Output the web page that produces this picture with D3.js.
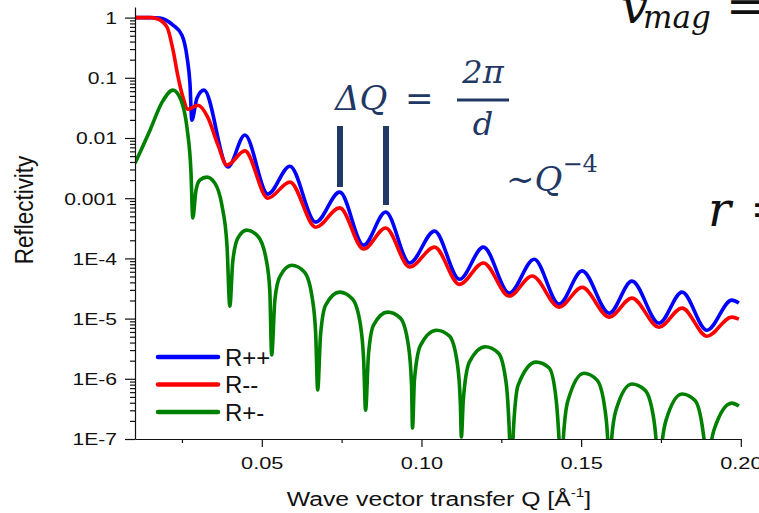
<!DOCTYPE html>
<html>
<head>
<meta charset="utf-8">
<script src="https://cdn.jsdelivr.net/npm/d3@7"></script>
<style>
  body { margin: 0; background: #fff; }
  svg { display: block; }
  text { font-family: "Liberation Sans", Arial, sans-serif; fill: #111; }
  .math { font-family: "DejaVu Serif", serif; font-style: italic; }
  .navy { fill: #1f3864; }
</style>
</head>
<body>
<svg id="chart" width="759" height="513"></svg>
<script>
// series (Q in 1/Angstrom, reflectivity)
const seriesNames = ["R++", "R--", "R+-"];
const seriesColors = ["#0000ff", "#ff0000", "#008000"];

const qPlusPlus = [0.0103, 0.0150, 0.0181, 0.0222, 0.0250, 0.0266, 0.0275, 0.0281, 0.0297, 0.0319,
  0.0394, 0.0447, 0.0519, 0.0588, 0.0669, 0.0744, 0.0819, 0.0888, 0.0963, 0.1041,
  0.1119, 0.1194, 0.1275, 0.1353, 0.1431, 0.1503, 0.1588, 0.1659, 0.1744, 0.1816,
  0.1894, 0.1972, 0.1994];
const rPlusPlus = [1.0, 1.0, 0.98, 0.75, 0.51, 0.22, 0.082, 0.0198, 0.046, 0.0625,
  0.0033, 0.0112, 0.00117, 0.0034, 4.0e-4, 1.26e-3, 1.66e-4, 5.9e-4, 8.4e-5, 2.84e-4,
  4.5e-5, 1.54e-4, 2.65e-5, 9.7e-5, 1.74e-5, 6.2e-5, 1.23e-5, 4.2e-5, 8.4e-6, 2.75e-5,
  6.4e-6, 2.03e-5, 1.81e-5];

const qMinusMinus = [0.0103, 0.0150, 0.0172, 0.0203, 0.0222, 0.0238, 0.0253, 0.0269, 0.0300, 0.0331,
  0.0363, 0.0391, 0.0447, 0.0519, 0.0588, 0.0669, 0.0744, 0.0819, 0.0888, 0.0963,
  0.1041, 0.1119, 0.1194, 0.1275, 0.1347, 0.1431, 0.1503, 0.1588, 0.1659, 0.1744,
  0.1816, 0.1894, 0.1972, 0.1994];
const rMinusMinus = [1.0, 1.0, 0.96, 0.70, 0.29, 0.103, 0.048, 0.030, 0.035, 0.022,
  0.0076, 0.00355, 0.0061, 0.0010, 0.00185, 3.3e-4, 6.9e-4, 1.43e-4, 3.2e-4, 7.2e-5,
  1.54e-4, 3.7e-5, 8.4e-5, 2.37e-5, 5.1e-5, 1.55e-5, 3.3e-5, 1.06e-5, 2.19e-5, 7.2e-6,
  1.49e-5, 5.1e-6, 1.06e-5, 9.8e-6];

const qPlusMinus = [0.0103, 0.0150, 0.0188, 0.0222, 0.0247, 0.0266, 0.0278, 0.0284, 0.0294, 0.0306,
  0.0328, 0.0353, 0.0375, 0.0391, 0.0400, 0.0409, 0.0425, 0.0453, 0.0488, 0.0513,
  0.0525, 0.0531, 0.0541, 0.0556, 0.0594, 0.0634, 0.0659, 0.0669, 0.0675, 0.0684,
  0.0700, 0.0744, 0.0784, 0.0809, 0.0819, 0.0825, 0.0834, 0.0850, 0.0894, 0.0934,
  0.0959, 0.0969, 0.0972, 0.0978, 0.0997, 0.1047, 0.1088, 0.1113, 0.1122, 0.1125,
  0.1131, 0.1150, 0.1200, 0.1241, 0.1266, 0.1275, 0.1281, 0.1288, 0.1303, 0.1359,
  0.1400, 0.1422, 0.1431, 0.1438, 0.1444, 0.1459, 0.1509, 0.1550, 0.1575, 0.1584,
  0.1588, 0.1594, 0.1609, 0.1659, 0.1700, 0.1728, 0.1738, 0.1744, 0.1750, 0.1766,
  0.1816, 0.1856, 0.1881, 0.1891, 0.1894, 0.1900, 0.1916, 0.1972, 0.1994];
const rPlusMinus = [3.8e-3, 0.0135, 0.0395, 0.0625, 0.0427, 0.0146, 0.00293, 4.7e-4, 0.00136, 0.0020,
  0.00224, 0.00178, 7.7e-4, 1.66e-4, 1.61e-5, 8.7e-5, 2.17e-4, 2.95e-4, 2.34e-4, 1.01e-4,
  3.0e-5, 2.48e-6, 2.03e-5, 4.9e-5, 7.7e-5, 5.9e-5, 2.03e-5, 5.3e-6, 6.5e-7, 5.3e-6,
  1.67e-5, 2.75e-5, 2.11e-5, 7.8e-6, 2.05e-6, 3.0e-7, 2.48e-6, 7.8e-6, 1.28e-5, 1.02e-5,
  3.6e-6, 7.9e-7, 1.52e-7, 9.5e-7, 3.6e-6, 6.4e-6, 5.1e-6, 1.69e-6, 3.66e-7, 1.08e-7,
  4.4e-7, 1.89e-6, 3.4e-6, 2.67e-6, 7.9e-7, 1.41e-7, 2.07e-8, 1.41e-7, 7.9e-7, 1.89e-6,
  1.51e-6, 4.4e-7, 9.6e-8, 1.71e-8, 9.6e-8, 4.4e-7, 1.24e-6, 9.5e-7, 3.0e-7, 7.9e-8,
  1.42e-8, 7.9e-8, 3.0e-7, 8.2e-7, 6.5e-7, 2.06e-7, 5.4e-8, 1.17e-8, 5.4e-8, 2.06e-7,
  5.6e-7, 4.4e-7, 1.41e-7, 3.7e-8, 9.7e-9, 3.7e-8, 1.41e-7, 3.95e-7, 3.52e-7];

const xTickValues = [0.05, 0.10, 0.15, 0.20];
const xTickLabels = ["0.05", "0.10", "0.15", "0.20"];
const xMinorTicks = [0.025, 0.075, 0.125, 0.175];
const yTickValues = [1, 0.1, 0.01, 0.001, 1e-4, 1e-5, 1e-6, 1e-7];
const yTickLabels = ["1", "0.1", "0.01", "0.001", "1E-4", "1E-5", "1E-6", "1E-7"];

const series = [
  {q: qPlusPlus, r: rPlusPlus},
  {q: qMinusMinus, r: rMinusMinus},
  {q: qPlusMinus, r: rPlusMinus}
];

const svg = d3.select("#chart");
const LEFT = 135, RIGHT = 740.8, TOP = 7, BOTTOM = 439;

const x = d3.scaleLinear().domain([0.0103, 0.2]).range([LEFT, RIGHT]);
const y = d3.scaleLog().domain([1e-7, 1.5]).range([BOTTOM, TOP]);

// minor y ticks 2..9 per decade
const yMinorTicks = [];
for (let k = -7; k < 0; k++) {
  for (let m = 2; m <= 9; m++) yMinorTicks.push(m * Math.pow(10, k));
}

// clip
svg.append("defs").append("clipPath").attr("id", "plot")
  .append("rect").attr("x", LEFT).attr("y", 0).attr("width", RIGHT - LEFT + 5).attr("height", BOTTOM);

// curves
const line = d3.line().curve(d3.curveMonotoneX);
const curves = svg.append("g").attr("clip-path", "url(#plot)");
series.forEach((s, i) => {
  const pts = s.q.map((q, j) => [x(q), y(s.r[j])]);
  curves.append("path")
    .attr("d", line(pts))
    .attr("fill", "none")
    .attr("stroke", seriesColors[i])
    .attr("stroke-width", 3.6)
    .attr("stroke-linejoin", "round");
});

// y axis
const yAxisG = svg.append("g").attr("transform", `translate(${LEFT},0)`);
yAxisG.append("g")
  .call(d3.axisLeft(y).tickValues(yMinorTicks).tickSize(5).tickSizeOuter(0).tickFormat(""))
  .call(g => g.select(".domain").remove());
yAxisG.append("g")
  .call(d3.axisLeft(y).tickValues(yTickValues).tickSize(10).tickSizeOuter(0)
    .tickFormat((d, i) => yTickLabels[i]))
  .call(g => g.selectAll("text")
    .attr("x", -18 / 1.28).attr("dy", "0.36em")
    .attr("transform", "scale(1.28,1)")
    .style("font-size", "16.5px").style("font-family", "Liberation Sans, Arial, sans-serif")
    .attr("fill", "#111"));
yAxisG.selectAll("path, line").attr("stroke", "#111").attr("stroke-width", 1.2);

// x axis
const xAxisG = svg.append("g").attr("transform", `translate(0,${BOTTOM})`);
xAxisG.append("g")
  .call(d3.axisBottom(x).tickValues(xMinorTicks).tickSize(4).tickSizeOuter(0).tickFormat(""))
  .call(g => g.select(".domain").remove());
xAxisG.append("g")
  .call(d3.axisBottom(x).tickValues(xTickValues).tickSize(8).tickSizeOuter(0)
    .tickFormat((d, i) => xTickLabels[i]))
  .call(g => g.selectAll("text")
    .attr("y", 30).attr("dy", 0)
    .attr("transform", "scale(1.28,1)")
    .style("font-size", "17px").style("font-family", "Liberation Sans, Arial, sans-serif")
    .attr("fill", "#111"));
xAxisG.selectAll("path, line").attr("stroke", "#111").attr("stroke-width", 1.2);

// axis titles
const xt = svg.append("text")
  .attr("transform", "translate(439,506) scale(1.18,1)")
  .attr("text-anchor", "middle")
  .style("font-size", "21px");
xt.append("tspan").text("Wave vector transfer Q [Å");
xt.append("tspan").attr("dy", -9).style("font-size", "13px").text("-1");
xt.append("tspan").attr("dy", 9).text("]");

svg.append("text")
  .attr("transform", "translate(33,210) scale(1.15,1) rotate(-90)")
  .attr("text-anchor", "middle")
  .style("font-size", "22.5px")
  .text("Reflectivity");

// legend
const legend = svg.append("g");
seriesNames.forEach((name, i) => {
  const ly = 357 + i * 27.5;
  legend.append("line")
    .attr("x1", 158).attr("x2", 218).attr("y1", ly).attr("y2", ly)
    .attr("stroke", seriesColors[i]).attr("stroke-width", 4.5).attr("stroke-linecap", "round");
  legend.append("text").attr("x", 225).attr("y", ly + 8.5)
    .style("font-size", "24px").text(name);
});

// annotations (slide overlay)
const ann = svg.append("g");
ann.append("text").attr("class", "math navy").attr("x", 335).attr("y", 110)
  .style("font-size", "34px").text("ΔQ");
ann.append("text").attr("class", "navy").attr("x", 405).attr("y", 110)
  .style("font-size", "34px").style("font-family", "DejaVu Serif, serif").text("=");
ann.append("text").attr("class", "math navy").attr("x", 483).attr("y", 83)
  .attr("text-anchor", "middle").style("font-size", "32px").text("2π");
ann.append("line").attr("x1", 457).attr("x2", 509).attr("y1", 100).attr("y2", 100)
  .attr("stroke", "#1f3864").attr("stroke-width", 3);
ann.append("text").attr("class", "math navy").attr("x", 483).attr("y", 135)
  .attr("text-anchor", "middle").style("font-size", "32px").text("d");
ann.append("rect").attr("x", 337).attr("y", 126).attr("width", 6).attr("height", 61).attr("fill", "#1f3864");
ann.append("rect").attr("x", 383).attr("y", 126).attr("width", 6).attr("height", 79).attr("fill", "#1f3864");

const qm = ann.append("text").attr("class", "math navy").attr("x", 506).attr("y", 191)
  .style("font-size", "34px");
qm.append("tspan").style("font-style", "normal").text("∼");
qm.append("tspan").text("Q");
qm.append("tspan").attr("dy", -19).style("font-size", "24px").style("font-style", "normal").text("−4");

const vm = ann.append("text").attr("class", "math").attr("x", 621).attr("y", 23)
  .style("font-size", "48px").attr("fill", "#000");
vm.append("tspan").text("v");
vm.append("tspan").attr("x", 643).attr("dy", 5).style("font-size", "31px").text("mag");
vm.append("tspan").attr("x", 726).attr("dy", -5).style("font-style", "normal").text("=");

const rr = ann.append("text").attr("class", "math").attr("x", 708).attr("y", 226)
  .style("font-size", "48px").attr("fill", "#000");
rr.append("tspan").text("r");
rr.append("tspan").attr("x", 750).style("font-style", "normal").text("=");
</script>
</body>
</html>
